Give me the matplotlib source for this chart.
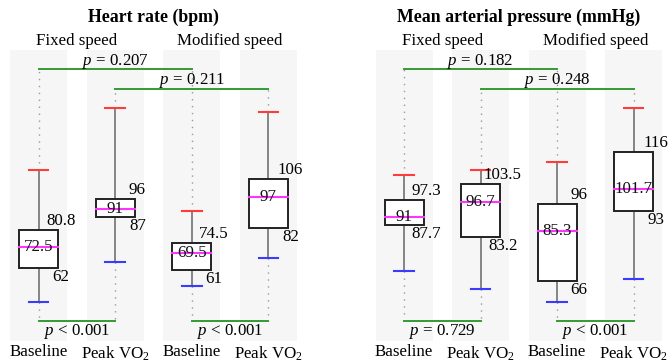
import matplotlib.pyplot as plt
from matplotlib.transforms import blended_transform_factory

plt.rcParams['font.family'] = ['Liberation Serif', 'DejaVu Serif']
plt.rcParams['mathtext.fontset'] = 'custom'
plt.rcParams['mathtext.rm'] = 'Liberation Serif'
plt.rcParams['mathtext.it'] = 'Liberation Serif:italic'

conditions = ['Fixed speed', 'Modified speed']
stages = ['Baseline', 'Peak VO$_2$']

# heart rate (bpm): fixed baseline, fixed peak, modified baseline, modified peak
hr_lo = [45.3, 65.2, 53.3, 67.0]
hr_q1 = [62, 87, 61, 82]
hr_med = [72.5, 91, 69.5, 97]
hr_q3 = [80.8, 96, 74.5, 106]
hr_hi = [110.2, 140.5, 90.0, 138.6]
hr_p_top = ['0.207', '0.211']
hr_p_bottom = ['< 0.001', '< 0.001']

# mean arterial pressure (mmHg)
map_lo = [69.9, 62.9, 57.9, 66.9]
map_q1 = [87.7, 83.2, 66, 93]
map_med = [91, 96.7, 85.3, 101.7]
map_q3 = [97.3, 103.5, 96, 116]
map_hi = [107.2, 109.0, 112.0, 133.2]
map_p_top = ['0.182', '0.248']
map_p_bottom = ['= 0.729', '< 0.001']

fig = plt.figure(figsize=(6.69, 3.63), dpi=100)
ax1 = fig.add_axes([0.01495, 0.0606, 0.4290, 0.8017])
ax2 = fig.add_axes([0.5616, 0.0606, 0.4279, 0.8017])

green = '#349a34'
fs = 12.2


def draw_panel(ax, title, lo, q1, med, q3, hi, p_top, p_bottom, ylim):
    pos = [1, 2, 3, 4]
    ax.set_xlim(0.6275, 4.3725)
    ax.set_ylim(*ylim)
    ax.axis('off')
    tr = blended_transform_factory(ax.transData, ax.transAxes)
    for x in pos:
        ax.axvspan(x - 0.3725, x + 0.3725, color='#f6f6f6', lw=0, zorder=0)

    top_y = [0.935, 0.866, 0.935, 0.866]
    bot_y = 0.0687
    to_data = lambda f: ax.transData.inverted().transform(ax.transAxes.transform((0, f)))[1]
    for i, x in enumerate(pos):
        # dotted leaders to brackets
        ax.plot([x, x], [hi[i], to_data(top_y[i])],
                color='#999999', ls=(0, (1, 4)), lw=1, zorder=1)
        ax.plot([x, x], [lo[i], to_data(bot_y)],
                color='#999999', ls=(0, (1, 4)), lw=1, zorder=1)
        # whiskers
        ax.plot([x, x], [lo[i], q1[i]], color='#666666', lw=1.1, zorder=2)
        ax.plot([x, x], [q3[i], hi[i]], color='#666666', lw=1.1, zorder=2)
        ax.plot([x - 0.128, x + 0.128], [hi[i], hi[i]], color='#ff3b3b', lw=1.5, zorder=3)
        ax.plot([x - 0.128, x + 0.128], [lo[i], lo[i]], color='#3b3bff', lw=1.5, zorder=3)
        # box
        ax.add_patch(plt.Rectangle((x - 0.255, q1[i]), 0.51, q3[i] - q1[i],
                                   facecolor='white', edgecolor='#222222',
                                   lw=1.4, zorder=3))
        ax.plot([x - 0.255, x + 0.255], [med[i], med[i]], color='#ff33ff', lw=1.5, zorder=4)
        ax.text(x, med[i], f'{med[i]:g}', ha='center', va='center',
                fontsize=fs, color='#111111', zorder=5)
        ax.annotate(f'{q3[i]:g}', xy=(x + 0.29, q3[i]), xytext=(0, 9),
                    textcoords='offset pixels', ha='center', va='center',
                    fontsize=fs, annotation_clip=False)
        ax.annotate(f'{q1[i]:g}', xy=(x + 0.29, q1[i]), xytext=(0, -9),
                    textcoords='offset pixels', ha='center', va='center',
                    fontsize=fs, annotation_clip=False)

    # brackets between conditions
    ax.plot([1, 3], [0.935, 0.935], color=green, lw=1.4, transform=tr, zorder=2)
    ax.plot([2, 4], [0.866, 0.866], color=green, lw=1.4, transform=tr, zorder=2)
    ax.text(2, 0.962, f'$p$ = {p_top[0]}', ha='center', va='center',
            fontsize=fs, transform=tr, zorder=3)
    ax.text(3, 0.894, f'$p$ = {p_top[1]}', ha='center', va='center',
            fontsize=fs, transform=tr, zorder=3)
    # brackets between stages
    for j, (a, b) in enumerate([(1, 2), (3, 4)]):
        ax.plot([a, b], [bot_y, bot_y], color=green, lw=1.4, transform=tr, zorder=2)
        ax.text((a + b) / 2, 0.034, f'$p$ {p_bottom[j]}', ha='center', va='center',
                fontsize=fs, transform=tr, zorder=3)

    # labels
    for j, c in enumerate(conditions):
        ax.text(1.5 + 2 * j, 1.031, c, ha='center', va='center', fontsize=fs,
                transform=tr, clip_on=False)
    for i, x in enumerate(pos):
        ax.text(x, -0.012, stages[i % 2], ha='center', va='top', fontsize=fs,
                transform=tr, clip_on=False)
    ax.text(2.5, 1.113, title, ha='center', va='center', fontsize=12.8,
            fontweight='bold', transform=tr, clip_on=False)


draw_panel(ax1, 'Heart rate (bpm)', hr_lo, hr_q1, hr_med, hr_q3, hr_hi,
           hr_p_top, hr_p_bottom, (26.4, 169.0))
draw_panel(ax2, 'Mean arterial pressure (mmHg)', map_lo, map_q1, map_med, map_q3,
           map_hi, map_p_top, map_p_bottom, (42.75, 155.6))

plt.savefig('out.png', dpi=100)
